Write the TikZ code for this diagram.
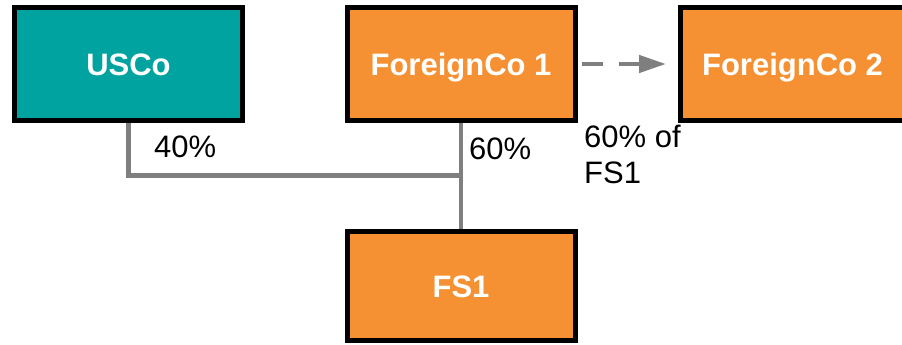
\documentclass[tikz,border=0pt]{standalone}
\usepackage{fontspec}
\setmainfont{Liberation Sans}
\usetikzlibrary{arrows.meta,backgrounds}

\definecolor{tealbox}{RGB}{0,163,160}
\definecolor{orangebox}{RGB}{245,145,50}
\definecolor{linkgray}{RGB}{127,127,127}

\tikzset{
  entity/.style={draw=black, line width=5pt, rectangle, inner sep=0pt, outer sep=0pt,
    minimum width=228pt, minimum height=113pt, text=white,
    text height=22pt, text depth=0pt,
    font=\fontsize{31}{36}\selectfont\bfseries},
  usbox/.style={entity, fill=tealbox},
  fbox/.style={entity, fill=orangebox},
  link/.style={draw=linkgray, line width=4.5pt},
  transfer/.style={draw=linkgray, line width=4.5pt, dash pattern=on 21pt off 16pt,
    -{Triangle[length=27pt, width=17pt]}},
  pct/.style={anchor=base west, inner sep=0pt, align=left,
    font=\fontsize{31}{36}\selectfont}
}

\begin{document}
\begin{tikzpicture}[x=1pt, y=-1pt]
  \useasboundingbox (0,0) rectangle (902,345);
  \clip (0,0) rectangle (902,345);

  % entities
  \node[usbox] (usco) at (128.5,64) {USCo};
  \node[fbox]  (fc1)  at (461,64) {ForeignCo 1};
  \node[fbox, minimum width=224pt] (fc2) at (792.5,64) {ForeignCo 2};
  \node[fbox, minimum height=109pt] (fs1) at (461,286) {FS1};

  % ownership lines
  \coordinate (join) at (461,175.5);
  \begin{pgfonlayer}{background}
    \draw[link] (usco.south) |- (join);
    \draw[link] (fc1.south) -- (fs1.north);
  \end{pgfonlayer}

  % planned transfer
  \draw[transfer] ([xshift=6.5pt]fc1.east) -- ([xshift=-14.5pt]fc2.west);

  % percentages
  \node[pct] (p40) at (154,157) {40\%};
  \node[pct] (p60) at (469,159) {60\%};
  \node[pct] (pfs) at (584,183) {60\% of\\FS1};
\end{tikzpicture}
\end{document}
